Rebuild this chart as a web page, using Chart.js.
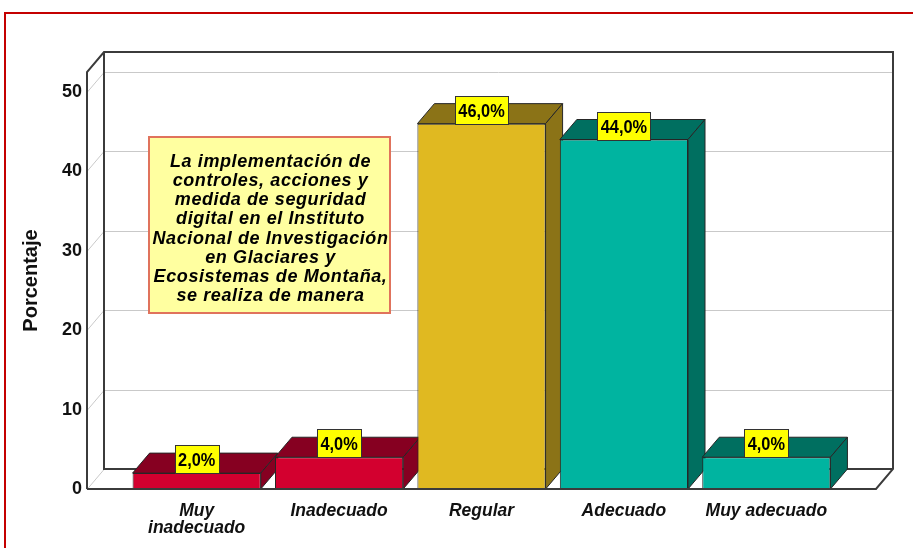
<!DOCTYPE html>
<html>
<head>
<meta charset="utf-8">
<script src="https://cdn.jsdelivr.net/npm/chart.js@4"></script>
<style>
html,body{margin:0;padding:0;background:#fff;overflow:hidden}
#wrap{position:relative;width:913px;height:548px}
</style>
</head>
<body>
<div id="wrap"><canvas id="c" width="913" height="548"></canvas></div>
<script>
// ---- data ----
const categories = ['Muy inadecuado', 'Inadecuado', 'Regular', 'Adecuado', 'Muy adecuado'];
const tickLabels = [['Muy', 'inadecuado'], 'Inadecuado', 'Regular', 'Adecuado', 'Muy adecuado'];
const percentages = [2.0, 4.0, 46.0, 44.0, 4.0];
const yTickValues = [0, 10, 20, 30, 40, 50];
const yAxisTitle = 'Porcentaje';
const annotationLines = [
  'La implementación de',
  'controles, acciones y',
  'medida de seguridad',
  'digital en el Instituto',
  'Nacional de Investigación',
  'en Glaciares y',
  'Ecosistemas de Montaña,',
  'se realiza de manera'
];
const frontColors = ['#D3002F', '#D3002F', '#E0B921', '#00B4A0', '#00B4A0'];
const darkColors  = ['#860021', '#860021', '#8B7317', '#006F60', '#006F60'];

// ---- 3D depth ----
const DX = 17, DY = -20;

const frame3d = {
  id: 'frame3d',
  beforeDraw(chart) {
    const ctx = chart.ctx;
    ctx.save();
    ctx.strokeStyle = '#C40000';
    ctx.lineWidth = 2;
    ctx.strokeRect(5, 13, 1000, 1000);
    ctx.restore();
  },
  beforeDatasetsDraw(chart) {
    const { ctx, chartArea: { left: L, right: R, top: T, bottom: B }, scales: { y } } = chart;
    ctx.save();
    ctx.strokeStyle = '#c9c9c9';
    ctx.lineWidth = 1;
    y.ticks.forEach(t => {
      const py = Math.round(y.getPixelForValue(t.value)) + 0.5;
      ctx.beginPath();
      ctx.moveTo(L, py);
      ctx.lineTo(L + DX, py + DY);
      if (t.value > 0) ctx.lineTo(R + DX, py + DY);
      ctx.stroke();
    });
    ctx.strokeStyle = '#3b3b3b';
    ctx.lineWidth = 2;
    ctx.beginPath();
    ctx.moveTo(L, B); ctx.lineTo(L, T); ctx.lineTo(L + DX, T + DY);
    ctx.lineTo(R + DX, T + DY); ctx.lineTo(R + DX, B + DY); ctx.lineTo(R, B); ctx.lineTo(L, B);
    ctx.moveTo(L + DX, T + DY); ctx.lineTo(L + DX, B + DY); ctx.lineTo(R + DX, B + DY);
    ctx.stroke();
    const meta = chart.getDatasetMeta(0);
    meta.data.forEach((bar, i) => {
      const p = bar.getProps(['x', 'y', 'base', 'width'], true);
      const l = p.x - p.width / 2, r = p.x + p.width / 2, top = p.y, base = p.base;
      ctx.fillStyle = darkColors[i];
      ctx.strokeStyle = '#262626';
      ctx.lineWidth = 1;
      ctx.beginPath();
      ctx.moveTo(l, top); ctx.lineTo(l + DX, top + DY); ctx.lineTo(r + DX, top + DY); ctx.lineTo(r, top);
      ctx.closePath(); ctx.fill(); ctx.stroke();
      ctx.beginPath();
      ctx.moveTo(r, top); ctx.lineTo(r + DX, top + DY); ctx.lineTo(r + DX, base + DY); ctx.lineTo(r, base);
      ctx.closePath(); ctx.fill(); ctx.stroke();
    });
    ctx.restore();
  },
  afterDatasetsDraw(chart) {
    const { ctx, chartArea: { left: L, right: R, bottom: B } } = chart;
    ctx.save();
    ctx.strokeStyle = '#3b3b3b';
    ctx.lineWidth = 2;
    ctx.beginPath(); ctx.moveTo(L, B); ctx.lineTo(R, B); ctx.stroke();
    const meta = chart.getDatasetMeta(0);
    ctx.font = 'bold 19px "Liberation Sans", Arial, sans-serif';
    ctx.textAlign = 'center';
    ctx.textBaseline = 'middle';
    const sx = 0.86;
    meta.data.forEach((bar, i) => {
      const txt = percentages[i].toFixed(1).replace('.', ',') + '%';
      const w = Math.round(ctx.measureText(txt).width * sx + 7), h = 28;
      const bx = Math.round(bar.x - w / 2) + 0.5, by = Math.round(bar.y - h) + 0.5;
      ctx.fillStyle = '#FFFF00';
      ctx.fillRect(bx, by, w, h);
      ctx.strokeStyle = '#333';
      ctx.lineWidth = 1;
      ctx.strokeRect(bx, by, w, h);
      ctx.fillStyle = '#000';
      ctx.save();
      ctx.translate(bar.x, by + h / 2 + 1);
      ctx.scale(sx, 1);
      ctx.fillText(txt, 0, 0);
      ctx.restore();
    });
    ctx.restore();
  },
  afterDraw(chart) {
    const { ctx, chartArea: { left: L, top: T } } = chart;
    const bx = L + 62, by = T + 65, bw = 241, bh = 176;
    ctx.save();
    ctx.fillStyle = '#FFFFA0';
    ctx.fillRect(bx, by, bw, bh);
    ctx.strokeStyle = '#E0735C';
    ctx.lineWidth = 2;
    ctx.strokeRect(bx, by, bw, bh);
    ctx.fillStyle = '#000';
    ctx.font = 'italic bold 18px "Liberation Sans", Arial, sans-serif';
    ctx.letterSpacing = '0.6px';
    ctx.textAlign = 'center';
    ctx.textBaseline = 'middle';
    const lh = 19.1;
    const cy = by + bh / 2 + 4;
    annotationLines.forEach((line, i) => {
      ctx.fillText(line, bx + bw / 2 + 1, cy + (i - (annotationLines.length - 1) / 2) * lh);
    });
    ctx.restore();
  }
};

new Chart(document.getElementById('c'), {
  type: 'bar',
  data: {
    labels: categories,
    datasets: [{
      data: percentages.map((v, i) => ({ x: i, y: v })),
      backgroundColor: frontColors,
      borderColor: '#262626',
      borderWidth: 1,
      categoryPercentage: 0.9,
      barPercentage: 1.0
    }]
  },
  options: {
    responsive: false,
    animation: false,
    devicePixelRatio: 1,
    layout: { padding: { top: 72, right: 37, left: 0, bottom: 0 } },
    plugins: { legend: { display: false }, tooltip: { enabled: false } },
    scales: {
      x: {
        type: 'linear',
        offset: false,
        min: -0.77,
        max: 4.77,
        grid: { display: false, drawTicks: false },
        border: { display: false },
        afterBuildTicks: (scale) => { scale.ticks = categories.map((c, i) => ({ value: i })); },
        afterFit: (scale) => { scale.height = 59; },
        ticks: {
          autoSkip: false,
          maxRotation: 0,
          padding: 13,
          color: '#111',
          font: { family: '"Liberation Sans", Arial, sans-serif', size: 17.5, weight: 'bold', style: 'italic', lineHeight: 1.0 },
          callback: (v) => tickLabels[v] !== undefined ? tickLabels[v] : ''
        }
      },
      y: {
        min: 0,
        max: 52.5,
        grid: { display: false, drawTicks: false },
        border: { display: false },
        afterBuildTicks: (scale) => { scale.ticks = yTickValues.map(v => ({ value: v })); },
        afterFit: (scale) => { scale.width = 87; },
        ticks: {
          padding: 5,
          color: '#111',
          font: { family: '"Liberation Sans", Arial, sans-serif', size: 18, weight: 'bold' }
        },
        title: {
          display: true,
          text: yAxisTitle,
          color: '#111',
          padding: { top: 19, bottom: 0 },
          font: { family: '"Liberation Sans", Arial, sans-serif', size: 20, weight: 'bold', lineHeight: 1.2 }
        }
      }
    }
  },
  plugins: [frame3d]
});
</script>
</body>
</html>
